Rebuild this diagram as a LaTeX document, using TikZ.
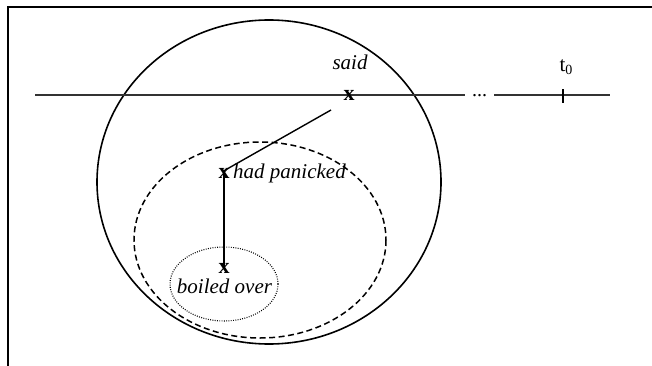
\documentclass[tikz,border=0pt]{standalone}
\usepackage{fontspec}
\setmainfont{Liberation Serif}
\usetikzlibrary{calc}
\tikzset{
  frameline/.style={line width=1.6pt,black},
  circ/.style={line width=1.6pt,black},
  dashell/.style={line width=1.5pt,black,dash pattern=on 6pt off 3.5pt},
  dotell/.style={line width=1.1pt,black,dash pattern=on 0.9pt off 1.4pt},
  tline/.style={line width=1.3pt,black!80},
  conn/.style={line width=1.4pt,black},
  xmark/.style={inner sep=0pt,font=\fontsize{22}{24}\selectfont\bfseries},
  lab/.style={inner sep=0pt,font=\fontsize{21}{24}\selectfont\itshape},
}
\begin{document}
\begin{tikzpicture}[x=1pt,y=-1pt]
\useasboundingbox (0,0) rectangle (652,366);
% frame
\draw[frameline] (8,367) -- (8,7) -- (653,7);
% sets
\draw[circ] (269,182) ellipse [x radius=172, y radius=162];
\draw[dashell] (260,240) ellipse [x radius=126, y radius=98];
\draw[dotell] (224,284) ellipse [x radius=54, y radius=37];
% timeline
\coordinate (tstart) at (35,95);
\coordinate (tend) at (610,95);
\node[inner sep=0pt,font=\fontsize{20}{20}\selectfont,anchor=base] (dots) at (479.5,97) {...};
\draw[tline] (tstart) -- (465,95);
\draw[tline] (494,95) -- (tend);
\coordinate (tick) at (563,95);
\draw[line width=2.2pt] ([yshift=-8]tick) -- ([yshift=6]tick);
\node[inner sep=0pt,font=\fontsize{21}{24}\selectfont,anchor=base] (t0) at (566,72) {t\raisebox{-3pt}{\fontsize{14}{14}\selectfont 0}};
% events
\node[xmark] (xs) at (349,95) {x};
\node[lab,anchor=base] (said) at (350,70) {said};
\node[xmark] (xh) at (224,173) {x};
\node[lab,anchor=base west] (hp) at (233,178) {had panicked};
\node[xmark] (xb) at (224,268) {x};
\node[lab,anchor=base] (bo) at (224.5,293) {boiled over};
% connectors
\draw[conn] ([shift={(-18,15)}]xs.center) -- ([yshift=-3]xh.north);
\draw[conn] ([yshift=6]xh.south) -- ([yshift=-4]xb.north);
\end{tikzpicture}
\end{document}
